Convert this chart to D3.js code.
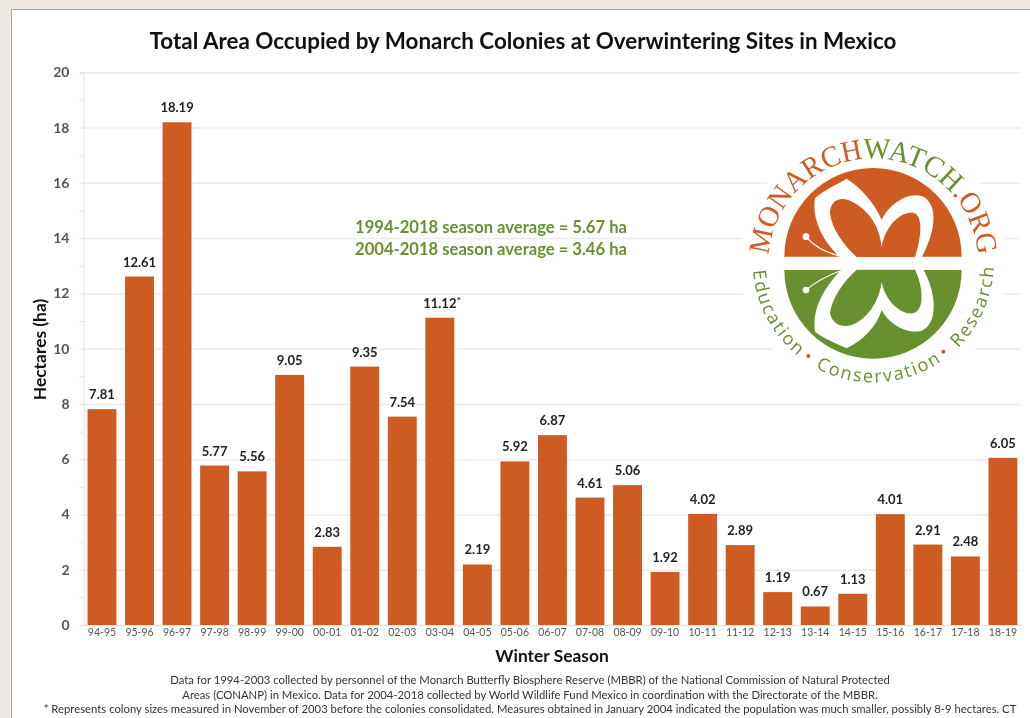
<!DOCTYPE html>
<html>
<head>
<meta charset="utf-8">
<script src="https://cdn.jsdelivr.net/npm/d3@7/dist/d3.min.js"></script>
<style>
  html, body { margin: 0; padding: 0; background: #ece7e1; overflow: hidden; }
  svg { display: block; filter: blur(0.45px); }
  text { font-family: Lato, "Open Sans", sans-serif; }
  .logo-serif { font-family: "Liberation Serif", serif; }
  .logo-sans { font-family: "Open Sans", sans-serif; }
</style>
</head>
<body>
<svg id="chart" width="1030" height="718"></svg>
<script>
const seasons = ["94-95", "95-96", "96-97", "97-98", "98-99", "99-00", "00-01", "01-02", "02-03",
  "03-04", "04-05", "05-06", "06-07", "07-08", "08-09", "09-10", "10-11", "11-12", "12-13",
  "13-14", "14-15", "15-16", "16-17", "17-18", "18-19"];
const hectares = [7.81, 12.61, 18.19, 5.77, 5.56, 9.05, 2.83, 9.35, 7.54, 11.12, 2.19, 5.92, 6.87,
  4.61, 5.06, 1.92, 4.02, 2.89, 1.19, 0.67, 1.13, 4.01, 2.91, 2.48, 6.05];
const yTicks = [0, 2, 4, 6, 8, 10, 12, 14, 16, 18, 20];
const titleText = "Total Area Occupied by Monarch Colonies at Overwintering Sites in Mexico";
const averages = ["1994-2018 season average = 5.67 ha", "2004-2018 season average = 3.46 ha"];
const footnotes = [
  "Data for 1994-2003 collected by personnel of the Monarch Butterfly Biosphere Reserve (MBBR) of the National Commission of Natural Protected",
  "Areas (CONANP) in Mexico. Data for 2004-2018 collected by World Wildlife Fund Mexico in coordination with the Directorate of the MBBR.",
  "* Represents colony sizes measured in November of 2003 before the colonies consolidated. Measures obtained in January 2004 indicated the population was much smaller, possibly 8-9 hectares. CT"
];

const orange = "#cd5b22", green = "#69902f";
const svg = d3.select("#chart");

// backdrop and card (card runs off the right and bottom edges)
svg.append("rect").attr("width", 1030).attr("height", 718).attr("fill", "#ece7e1");
svg.append("rect").attr("x", 11.5).attr("y", 9.5).attr("width", 1040).attr("height", 730)
  .attr("fill", "#fff").attr("stroke", "#aca59d");

const x = d3.scaleBand().domain(seasons).range([83.2, 1021.7]).paddingInner(0.23).paddingOuter(0.115);
const y = d3.scaleLinear().domain([0, 20]).range([625, 72.3]);

// gridlines
svg.append("g").attr("transform", "translate(83.5,0)")
  .call(d3.axisLeft(y).tickValues(yTicks).tickSize(-937).tickFormat(""))
  .call(g => g.select(".domain").remove())
  .call(g => g.selectAll("line").attr("stroke", "#ececec").attr("stroke-width", 1.5));

// y axis
const yAxis = svg.append("g").attr("transform", "translate(83.5,0)")
  .call(d3.axisLeft(y).tickValues(d3.range(0, 21)).tickSize(4).tickFormat(d => d % 2 ? "" : d));
yAxis.select(".domain").attr("stroke", "#e2e2e2");
yAxis.selectAll("line").attr("stroke", "#e2e2e2");
yAxis.selectAll("text").attr("font-size", 14).attr("font-weight", 700).attr("fill", "#555").attr("x", -14);

// x axis
const xAxis = svg.append("g").attr("transform", "translate(0,625)")
  .call(d3.axisBottom(x).tickSize(0).tickPadding(4));
xAxis.select(".domain").attr("stroke", "#e2e2e2");
xAxis.selectAll("text").attr("font-size", 10.5).attr("fill", "#555");

// bars
svg.append("g").selectAll("rect").data(hectares).join("rect")
  .attr("x", (d, i) => x(seasons[i]))
  .attr("y", d => y(d))
  .attr("width", x.bandwidth())
  .attr("height", d => y(0) - y(d))
  .attr("fill", orange);

// value labels
svg.append("g").selectAll("text").data(hectares).join("text")
  .attr("x", (d, i) => x(seasons[i]) + x.bandwidth() / 2)
  .attr("y", d => y(d) - 10)
  .attr("text-anchor", "middle")
  .attr("font-size", 13)
  .attr("font-weight", 700)
  .attr("fill", "#222")
  .text(d => d.toFixed(2));

// asterisk next to the 03-04 label
svg.append("text").attr("x", x("03-04") + x.bandwidth() / 2 + 17).attr("y", y(11.12) - 14)
  .attr("font-size", 10).attr("font-weight", 700).attr("fill", "#222").text("*");

// titles
svg.append("text").attr("x", 523).attr("y", 49).attr("text-anchor", "middle")
  .attr("font-size", 22.4).attr("font-weight", 700).attr("fill", "#111").text(titleText);
svg.append("text").attr("x", 552).attr("y", 662).attr("text-anchor", "middle")
  .attr("font-size", 17.4).attr("font-weight", 700).attr("fill", "#111").text("Winter Season");
svg.append("text").attr("transform", "translate(46,349.5) rotate(-90)").attr("text-anchor", "middle")
  .attr("font-size", 17.4).attr("font-weight", 700).attr("fill", "#111").text("Hectares (ha)");

// season averages
svg.append("g").selectAll("text").data(averages).join("text")
  .attr("x", 491).attr("y", (d, i) => 233 + i * 22).attr("text-anchor", "middle")
  .attr("font-size", 16.6).attr("font-weight", 700).attr("fill", green).text(d => d);

// footnotes
svg.append("g").selectAll("text").data(footnotes).join("text")
  .attr("x", 530).attr("y", (d, i) => 684 + i * 14.7)
  .attr("text-anchor", "middle")
  .attr("font-size", 11.3).attr("fill", "#333").text(d => d);

// Monarch Watch logo, drawn in 3x units measured from the top left of the logo box
const logo = svg.append("g").attr("transform", "translate(730,120) scale(0.3333)");
logo.append("circle").attr("cx", 430).attr("cy", 430).attr("r", 400).attr("fill", "#fff");
logo.append("path").attr("d", "M163,410A266,266 0 0,1 695,410Z").attr("fill", orange);
logo.append("path").attr("d", "M163,450A266,266 0 0,0 695,450Z").attr("fill", green);

// butterfly: white wing bands, then the inner lobes on top of them
const butterfly = logo.append("g").attr("transform", "translate(150,150)");
butterfly.append("path").attr("fill", "#fff")
  .attr("d", "M200,26C240,50 285,100 305,150C325,105 380,65 425,78C470,95 475,170 425,262L180,262C130,215 95,150 105,85C130,60 170,45 200,26Z");
butterfly.append("path").attr("fill", orange)
  .attr("d", "M230,261C190,225 155,175 150,130C150,95 175,80 205,90C265,115 300,170 305,232C315,170 360,125 400,128C430,135 425,200 405,261Z");
butterfly.append("path").attr("fill", "#fff")
  .attr("d", "M200,535C250,510 290,470 305,420C325,460 380,495 425,482C470,465 475,380 430,298L185,298C135,350 95,415 105,485C130,505 170,520 200,535Z");
butterfly.append("path").attr("fill", green)
  .attr("d", "M230,299C190,335 155,385 150,430C160,475 205,475 235,455C275,430 300,380 305,335C315,390 360,435 400,430C435,420 430,350 405,299Z");

// antennae
butterfly.append("path").attr("d", "M78,200Q110,240 178,258").attr("fill", "none").attr("stroke", "#fff").attr("stroke-width", 3.5);
butterfly.append("path").attr("d", "M78,360Q120,325 180,303").attr("fill", "none").attr("stroke", "#fff").attr("stroke-width", 3.5);
butterfly.append("circle").attr("cx", 78).attr("cy", 200).attr("r", 10).attr("fill", "#fff");
butterfly.append("circle").attr("cx", 78).attr("cy", 360).attr("r", 10).attr("fill", "#fff");

// curved logo lettering
const defs = svg.append("defs");
defs.append("path").attr("id", "arcTop").attr("d", "M116,405A315,315 0 0,1 744,405");
defs.append("path").attr("id", "arcBottom").attr("d", "M69,452A362,362 0 0,0 791,452");
const topPath = logo.append("text").attr("class", "logo-serif").attr("font-size", 88)
  .append("textPath").attr("href", "#arcTop").attr("textLength", 939).attr("lengthAdjust", "spacingAndGlyphs");
topPath.append("tspan").attr("fill", orange).text("MONARCH");
topPath.append("tspan").attr("fill", green).text("WATCH");
topPath.append("tspan").attr("fill", orange).text(".ORG");
logo.append("text").attr("class", "logo-sans").attr("font-size", 54).attr("fill", green)
  .append("textPath").attr("href", "#arcBottom").attr("textLength", 1093)
  .text("Education\u00a0\u00a0\u00a0Conservation\u00a0\u00a0\u00a0Research");
logo.append("circle").attr("cx", 235).attr("cy", 708).attr("r", 6).attr("fill", orange);
logo.append("circle").attr("cx", 640).attr("cy", 695).attr("r", 6).attr("fill", orange);
</script>
</body>
</html>
